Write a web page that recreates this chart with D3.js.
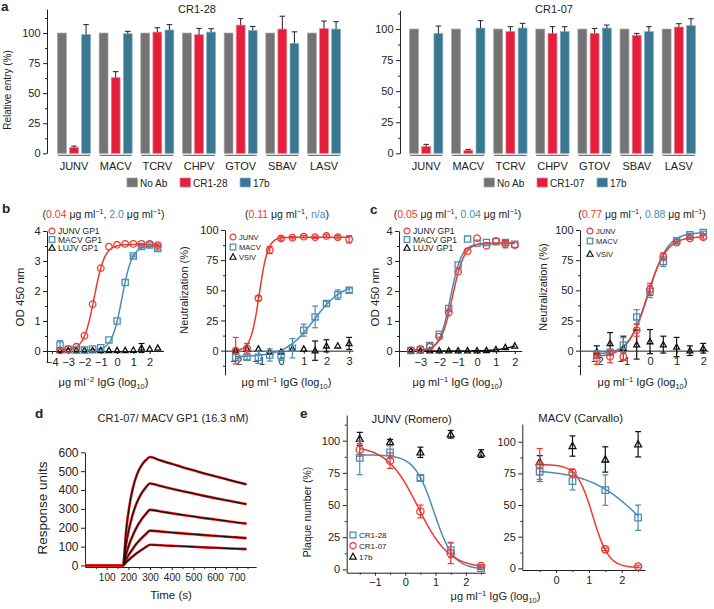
<!DOCTYPE html>
<html><head><meta charset="utf-8">
<script src="https://cdn.jsdelivr.net/npm/d3@7"></script>
<style>
body{margin:0;background:#fff}
svg text{font-family:"Liberation Sans",Arial,sans-serif;fill:#222}
</style></head><body>
<svg id="c" width="714" height="609"></svg>
<script>
// ---------------- DATA ----------------
const viruses = ["JUNV","MACV","TCRV","CHPV","GTOV","SBAV","LASV"];
const barKeys = ["No Ab","mAb","17b"];
// panel a, CR1-28
const a28NoAb = [100,100,100,100,100,100,100];
const a28Ab = [4.7,62.9,100.8,98.6,106.6,103.3,103.6];
const a28AbErr = [1.3,5,3.6,5.3,5.4,10.7,6.4];
const a28B17 = [98.9,99.4,102.5,100.8,102.2,91.4,103.3];
const a28B17Err = [8.1,2,4.5,2.8,3.3,9.6,6.1];
// panel a, CR1-07
const a07NoAb = [100,100,100,100,100,100,100];
const a07Ab = [5.4,2.4,97.9,96.5,96.5,94.9,101.6];
const a07AbErr = [1.8,0.8,4,5.4,4,1.6,2.7];
const a07B17 = [96.5,100.8,100.8,97.9,100.8,97.9,102.7];
const a07B17Err = [5.9,5.9,3.8,4,2.4,4,5.6];
const barTicks = [0,25,50,75,100];

// panel b, ELISA (CR1-28)
const bElisaX = [-3.5,-3,-2.5,-2,-1.5,-1,-0.5,0,0.5,1,1.5,2,2.5];
const bElisaJunv = [0.02,0.06,0.14,0.51,1.56,2.76,3.48,3.54,3.57,3.57,3.57,3.57,3.53];
const bElisaJunvErr = [0,0,0,0,0,0,0,0,0,0,0,0,0.04];
const bElisaMacv = [0.2,0.06,0.03,0.03,0.07,0.11,0.37,1.0,2.28,3.17,3.48,3.53,3.42];
const bElisaMacvErr = [0.15,0,0,0,0,0,0,0,0,0.03,0.04,0.03,0.05];
const bElisaLujv = [0.02,0.02,0.02,0.02,0.02,0.02,0.02,0.02,0.02,0.03,0.1,0.07,0.1];
const bElisaLujvErr = [0,0,0,0,0,0,0,0,0,0,0.15,0,0];
const bElisaFitJunv = [0.03,3.55,-1.4,1.35];   // bottom, top, logEC50, hill
const bElisaFitMacv = [0.03,3.5,0.3,1.4];
// panel b, neutralization (CR1-28)
const bNeutX = [-2,-1.5,-1,-0.5,0,0.5,1,1.5,2,2.5,3];
const bNeutJunv = [0,2,43.4,83.4,93,93.6,94.5,94,95,94,92.3];
const bNeutJunvErr = [11,4,2,3,1.5,1,1,1,1,1.5,3];
const bNeutMacv = [-5.5,-5.5,-5.5,-3.6,-4,2,17,28,39,46.4,50];
const bNeutMacvErr = [3,2,5,5,4,8,5,9,2,4,2];
const bNeutVsiv = [0,1.4,1.4,-1,-1,1.4,1.4,0,4,4,6];
const bNeutVsivErr = [0,0,0,0,0,0,0,8,5,0,5];
const bNeutFitJunv = [0,94,-0.96,2.3];
const bNeutFitMacv = [-5,56,1.45,0.7];

// panel c, ELISA (CR1-07)
const cElisaX = [-3.5,-3,-2.5,-2,-1.5,-1,-0.5,0,0.5,1,1.5,2];
const cElisaJunv = [0.02,0.07,0.14,0.48,1.28,2.64,3.33,3.76,3.51,3.67,3.56,3.53];
const cElisaJunvErr = [0,0,0,0,0,0,0,0,0,0,0.12,0];
const cElisaMacv = [0.02,0.03,0.18,0.56,1.42,2.87,3.73,3.59,3.62,3.64,3.62,3.56];
const cElisaMacvErr = [0,0,0,0,0,0,0,0,0,0,0.05,0];
const cElisaLujv = [0.01,0.01,0.01,0.01,0.01,0.01,0.01,0.01,0.02,0.05,0.12,0.17];
const cElisaFitJunv = [0.02,3.6,-1.3,1.4];
const cElisaFitMacv = [0.02,3.58,-1.4,1.5];
const cElisaFitLujv = [0,0.4,2.2,0.8];
// panel c, neutralization (CR1-07)
const cNeutX = [-2,-1.5,-1,-0.5,0,0.5,1,1.5,2];
const cNeutJunv = [-6.4,-5,-5,17,50.8,78,89.5,93,94];
const cNeutJunvErr = [5,5,3,5,5,3,1,1,1.5];
const cNeutMacv = [-3,-1.4,4.7,28,49,73.8,91,96,98];
const cNeutMacvErr = [3,2,6,6,5,4,1,1,1];
const cNeutVsiv = [-1,6,2,5,7.5,5,3,0,2];
const cNeutVsivErr = [5,9,10,12,10,7,8,4,4];
const cNeutFitJunv = [-5,94.5,-0.11,1.2];
const cNeutFitMacv = [-3,98,-0.055,1.2];

// panel d, SPR sensorgrams
const dTimes = [0,175,190,205,220,240,260,280,300,350,400,450,500,550,600,650,700,745];
const dResp1 = [0,0,188,317,406,483,529,558,575,556,539,521,505,488,473,458,443,430];
const dResp2 = [0,0,115,203,270,335,381,413,435,421,407,394,382,369,357,346,335,325];
const dResp3 = [0,0,62,115,158,206,243,272,295,286,277,268,260,251,244,236,228,222];
const dResp4 = [0,0,33,62,88,119,144,166,185,180,175,170,166,161,157,153,149,145];
const dResp5 = [0,0,17,33,48,66,82,97,110,107,104,102,99,96,94,91,89,87];

// panel e, plaque reduction
const eJunvX = [-1.5,-0.5,0.5,1.5,2.5];
const eJunvCR28 = [86.6,91,71,15,1];
const eJunvCR28Err = [13,5,2,6,1];
const eJunvCR07 = [93,84.5,45,12.5,2.6];
const eJunvCR07Err = [5,6,5,8,1];
const eJunv17b = [101.5,99,91,105,90];
const eJunv17bErr = [5,2,4,3,3];
const eJunvFitCR28 = [0,89,0.95,-1.35];
const eJunvFitCR07 = [1,96,0.42,-0.85];
const eMacvX = [-0.5,0.5,1.5,2.5];
const eMacvCR28 = [76.3,68.9,61.8,40];
const eMacvCR28Err = [6,7,12,10];
const eMacvCR07 = [81.6,75.5,15,1.5];
const eMacvCR07Err = [13,3,1,1];
const eMacv17b = [84,96.6,86,98];
const eMacv17bErr = [5,8,10,10];
const eMacvFitCR28 = [0,78,2.6,-0.55];
const eMacvFitCR07 = [0.5,82,1.12,-1.8];

// ---------------- STYLE ----------------
const FONT = "Liberation Sans, Arial, sans-serif";
const INK = "#222";
const BAR_FILL = ["#747474","#e41f3b","#3a7891"];
const BAR_STROKE = ["#a3a3a3","#f2798a","#86b0c2"];
const RED = "#ea3a33", BLUE = "#4a8db2", BLK = "#111";
const intFmt = d3.format("d");

const svg = d3.select("#c");

function txt(x, y, s, size, opts = {}) {
  const t = svg.append("text").attr("x", x).attr("y", y).attr("font-size", size)
    .attr("text-anchor", opts.anchor || "start").text(s);
  if (opts.bold) t.attr("font-weight", "bold");
  if (opts.fill) t.style("fill", opts.fill);
  return t;
}
// rich text: segments [text, kind, color] kind: n | sup | sub
function rich(x, y, segs, size, anchor = "middle", rotate = false) {
  const t = svg.append("text").attr("font-size", size).attr("text-anchor", anchor);
  if (rotate) t.attr("transform", `translate(${x},${y}) rotate(-90)`);
  else t.attr("x", x).attr("y", y);
  let shift = 0;
  segs.forEach(([s, kind, col]) => {
    const sp = t.append("tspan").text(s);
    let target = 0, fs = size;
    if (kind === "sup") { target = -size * 0.38; fs = size * 0.68; }
    if (kind === "sub") { target = size * 0.25; fs = size * 0.68; }
    sp.attr("font-size", fs).attr("dy", target - shift);
    shift = target;
    if (col) sp.style("fill", col);
  });
  return t;
}
function styleAxis(a, fs) {
  a.attr("font-family", FONT).attr("font-size", fs);
  a.selectAll("line,path").attr("stroke", INK).attr("stroke-width", 1);
  a.selectAll("text").style("fill", INK);
  return a;
}
function leftAxis(x, y, major, minor, fs) {
  const a = svg.append("g").attr("transform", `translate(${x},0)`)
    .call(d3.axisLeft(y).tickValues(major).tickFormat(intFmt).tickSize(4).tickSizeOuter(0).tickPadding(2.5));
  styleAxis(a, fs);
  if (minor) {
    const m = svg.append("g").attr("transform", `translate(${x},0)`)
      .call(d3.axisLeft(y).tickValues(minor).tickSize(2).tickFormat(""));
    m.select(".domain").remove();
    m.selectAll("line").attr("stroke", INK);
  }
  return a;
}
function bottomAxis(yPix, x, major, minor, fs, pad = 4) {
  const ax = d3.axisBottom(x).tickValues(major).tickFormat(intFmt).tickSize(3).tickSizeOuter(0).tickPadding(pad);
  const a = svg.append("g").attr("transform", `translate(0,${yPix})`).call(ax);
  styleAxis(a, fs);
  if (minor) {
    const m = svg.append("g").attr("transform", `translate(0,${yPix})`)
      .call(d3.axisBottom(x).tickValues(minor).tickSize(2).tickFormat(""));
    m.select(".domain").remove();
    m.selectAll("line").attr("stroke", INK);
  }
  return a;
}

// ---------------- PANEL A ----------------
function barPanel(cfg) {
  const x = d3.scaleBand().domain(viruses).range(cfg.xRange).paddingInner(0.232).paddingOuter(0);
  const sub = d3.scaleBand().domain(barKeys).range([-0.5, x.bandwidth() + 0.5]).paddingInner(0.27);
  const y = d3.scaleLinear().domain(cfg.yDomain).range(cfg.yRange);
  const series = [cfg.noAb, cfg.ab, cfg.b17];
  const errs = [null, cfg.abErr, cfg.b17Err];
  const g = svg.append("g");
  barKeys.forEach((k, si) => {
    const rows = viruses.map((v, i) => ({ v, val: series[si][i], e: errs[si] ? errs[si][i] : 0 }));
    g.append("g").selectAll("rect").data(rows).join("rect")
      .attr("x", d => x(d.v) + sub(k)).attr("width", sub.bandwidth())
      .attr("y", d => y(d.val)).attr("height", d => y(0) - y(d.val))
      .attr("fill", BAR_FILL[si]).attr("stroke", BAR_STROKE[si]).attr("stroke-width", 0.7);
    const eg = g.append("g").attr("stroke", INK).attr("stroke-width", 1);
    rows.filter(d => d.e > 0).forEach(d => {
      const cx = x(d.v) + sub(k) + sub.bandwidth() / 2;
      eg.append("line").attr("x1", cx).attr("x2", cx).attr("y1", y(d.val)).attr("y2", y(d.val + d.e));
      eg.append("line").attr("x1", cx - 2.8).attr("x2", cx + 2.8).attr("y1", y(d.val + d.e)).attr("y2", y(d.val + d.e));
    });
  });
  // group underline
  g.append("g").selectAll("line").data(viruses).join("line")
    .attr("x1", d => x(d)).attr("x2", d => x(d) + x.bandwidth())
    .attr("y1", y(0) + 2).attr("y2", y(0) + 2).attr("stroke", "#555").attr("stroke-width", 1);
  g.append("g").selectAll("text").data(viruses).join("text")
    .attr("x", d => x(d) + x.bandwidth() / 2).attr("y", y(0) + 17)
    .attr("text-anchor", "middle").attr("font-size", 11).text(d => d);
  leftAxis(cfg.axisX, y, barTicks, [12.5, 37.5, 62.5, 87.5, 112.5].filter(v => v <= cfg.yDomain[1]), 11);
  txt(cfg.titleX, 13, cfg.title, 11, { anchor: "middle" });
  // legend
  const names = ["No Ab", cfg.title, "17b"];
  cfg.legX.forEach((lx, i) => {
    svg.append("rect").attr("x", lx).attr("y", 178).attr("width", 10.5).attr("height", 9)
      .attr("fill", BAR_FILL[i]).attr("stroke", BAR_STROKE[i]).attr("stroke-width", 0.7);
    txt(lx + 13, 186.5, names[i], 10);
  });
}
barPanel({ xRange: [58, 340], yDomain: [0, 120], yRange: [153.3, 9], axisX: 47,
  noAb: a28NoAb, ab: a28Ab, abErr: a28AbErr, b17: a28B17, b17Err: a28B17Err,
  title: "CR1-28", titleX: 197, legX: [127, 180, 240] });
barPanel({ xRange: [410, 695], yDomain: [0, 115], yRange: [153.3, 10.4], axisX: 400,
  noAb: a07NoAb, ab: a07Ab, abErr: a07AbErr, b17: a07B17, b17Err: a07B17Err,
  title: "CR1-07", titleX: 554, legX: [484, 537, 597] });
svg.append("text").attr("transform", "translate(11,90) rotate(-90)").attr("text-anchor", "middle")
  .attr("font-size", 10).text("Relative entry (%)");
txt(1, 11, "a", 13.5, { bold: true });

// ---------------- helpers for curve panels ----------------
function logistic(p, v) { return p[0] + (p[1] - p[0]) / (1 + Math.pow(10, (p[2] - v) * p[3])); }
function drawFit(x, y, p, x0, x1, color, w = 1.5) {
  const pts = d3.range(x0, x1 + 1e-9, 0.02).map(v => [v, logistic(p, v)]);
  svg.append("path").datum(pts).attr("fill", "none").attr("stroke", color).attr("stroke-width", w)
    .attr("d", d3.line().x(d => x(d[0])).y(d => y(d[1])));
}
function markerPath(shape, s) {
  if (shape === "circle") return d3.symbol(d3.symbolCircle, Math.PI * (3.3 * s) ** 2)();
  if (shape === "square") return d3.symbol(d3.symbolSquare, (6.2 * s) ** 2)();
  const h = 3.6 * s;
  return `M0,${-h}L${h * 0.95},${h * 0.7}L${-h * 0.95},${h * 0.7}Z`;
}
function drawSeries(x, y, xs, ys, errs, shape, color, s = 1, capW = 3) {
  const rows = xs.map((v, i) => ({ v, val: ys[i], e: errs ? errs[i] : 0 }));
  const eg = svg.append("g").attr("stroke", color).attr("stroke-width", 1.2);
  rows.filter(d => d.e > 0).forEach(d => {
    const cx = x(d.v);
    eg.append("line").attr("x1", cx).attr("x2", cx).attr("y1", y(d.val - d.e)).attr("y2", y(d.val + d.e));
    [d.val - d.e, d.val + d.e].forEach(t => eg.append("line").attr("x1", cx - capW).attr("x2", cx + capW)
      .attr("y1", y(t)).attr("y2", y(t)));
  });
  svg.append("g").selectAll("path").data(rows).join("path")
    .attr("transform", d => `translate(${x(d.v)},${y(d.val)})`)
    .attr("d", markerPath(shape, s)).attr("fill", "none").attr("stroke", color).attr("stroke-width", 1.3);
}
function legend(x0, ys, items, fs, s = 0.9) {
  items.forEach(([shape, color, label], i) => {
    svg.append("path").attr("transform", `translate(${x0},${ys[i]})`).attr("d", markerPath(shape, s))
      .attr("fill", "none").attr("stroke", color).attr("stroke-width", 1.2);
    txt(x0 + 6, ys[i] + fs * 0.36, label, fs);
  });
}
const ugml = (sup) => [["μg ml", "n"], [sup, "sup"], [" IgG (log", "n"], ["10", "sub"], [")", "n"]];

// ---------------- PANEL B ----------------
{
  const x = d3.scaleLinear().domain([-4.3, 2.85]).range([47, 163.5]);
  const y = d3.scaleLinear().domain([-0.37, 4]).range([362.1, 231]);
  leftAxis(47, y, [0, 1, 2, 3, 4], [0.5, 1.5, 2.5, 3.5], 11);
  bottomAxis(y(0), x, [-4, -3, -2, -1, 0, 1, 2], null, 11, 4);
  drawFit(x, y, bElisaFitJunv, -3.5, 2.5, RED);
  drawFit(x, y, bElisaFitMacv, -2, 2.5, BLUE);
  drawSeries(x, y, bElisaX, bElisaLujv, bElisaLujvErr, "tri", BLK, 0.85);
  drawSeries(x, y, bElisaX, bElisaMacv, bElisaMacvErr, "square", BLUE);
  drawSeries(x, y, bElisaX, bElisaJunv, bElisaJunvErr, "circle", RED);
  legend(52, [231, 239.5, 248], [["circle", RED, "JUNV GP1"], ["square", BLUE, "MACV GP1"], ["tri", BLK, "LUJV GP1"]], 8.5);
  rich(103.5, 218, [["(", "n"], ["0.04", "n", RED], [" μg ml", "n"], ["−1", "sup"], [", ", "n"], ["2.0", "n", BLUE], [" μg ml", "n"], ["−1", "sup"], [")", "n"]], 10.5);
  rich(103.5, 386, ugml("−2"), 11);
  rich(24, 297, [["OD 450 nm", "n"]], 11.5, "middle", true);
}
{
  const x = d3.scaleLinear().domain([-2.47, 3.17]).range([225, 353]);
  const y = d3.scaleLinear().domain([-20, 100]).range([374.8, 230]);
  leftAxis(225, y, [0, 25, 50, 75, 100], [-12.5, 12.5, 37.5, 62.5, 87.5], 11);
  bottomAxis(y(0), x, [-2, -1, 0, 1, 2, 3], null, 11, 4);
  drawFit(x, y, bNeutFitJunv, -2, 3, RED);
  drawFit(x, y, bNeutFitMacv, -2, 3, BLUE);
  drawSeries(x, y, bNeutX, bNeutVsiv, bNeutVsivErr, "tri", BLK, 0.85);
  drawSeries(x, y, bNeutX, bNeutMacv, bNeutMacvErr, "square", BLUE);
  drawSeries(x, y, bNeutX, bNeutJunv, bNeutJunvErr, "circle", RED);
  legend(233, [237, 247, 257], [["circle", RED, "JUNV"], ["square", BLUE, "MACV"], ["tri", BLK, "VSIV"]], 7.5);
  rich(287, 218, [["(", "n"], ["0.11", "n", RED], [" μg ml", "n"], ["−1", "sup"], [", ", "n"], ["n/a", "n", BLUE], [")", "n"]], 10.5);
  rich(286.5, 386, ugml("−1"), 11);
  rich(188, 290, [["Neutralization (%)", "n"]], 11, "middle", true);
}
txt(2, 213, "b", 13.5, { bold: true });

// ---------------- PANEL C ----------------
{
  const x = d3.scaleLinear().domain([-4.13, 2.37]).range([399, 521.8]);
  const y = d3.scaleLinear().domain([-0.52, 4]).range([366.6, 231]);
  leftAxis(399, y, [0, 1, 2, 3, 4], [0.5, 1.5, 2.5, 3.5], 11);
  bottomAxis(y(0), x, [-3, -2, -1, 0, 1, 2], null, 11, 4);
  drawFit(x, y, cElisaFitLujv, -3.5, 2, BLK);
  drawFit(x, y, cElisaFitMacv, -3.5, 2, BLUE);
  drawFit(x, y, cElisaFitJunv, -3.5, 2, RED);
  drawSeries(x, y, cElisaX, cElisaLujv, null, "tri", BLK, 0.85);
  drawSeries(x, y, cElisaX, cElisaMacv, cElisaMacvErr, "square", BLUE);
  drawSeries(x, y, cElisaX, cElisaJunv, cElisaJunvErr, "circle", RED);
  legend(407, [231, 239.5, 248], [["circle", RED, "JUNV GP1"], ["square", BLUE, "MACV GP1"], ["tri", BLK, "LUJV GP1"]], 8.5);
  rich(457.5, 218, [["(", "n"], ["0.05", "n", RED], [" μg ml", "n"], ["−1", "sup"], [", ", "n"], ["0.04", "n", BLUE], [" μg ml", "n"], ["−1", "sup"], [")", "n"]], 10.5);
  rich(457.5, 386, ugml("−1"), 11);
  rich(379, 297, [["OD 450 nm", "n"]], 11.5, "middle", true);
}
{
  const x = d3.scaleLinear().domain([-2.63, 2.18]).range([580, 708]);
  const y = d3.scaleLinear().domain([-20, 100]).range([374.8, 230]);
  leftAxis(580, y, [0, 25, 50, 75, 100], [-12.5, 12.5, 37.5, 62.5, 87.5], 11);
  bottomAxis(y(0), x, [-2, -1, 0, 1, 2], null, 11, 4);
  drawFit(x, y, cNeutFitMacv, -2, 2, BLUE);
  drawFit(x, y, cNeutFitJunv, -2, 2, RED);
  drawSeries(x, y, cNeutX, cNeutVsiv, cNeutVsivErr, "tri", BLK, 0.85);
  drawSeries(x, y, cNeutX, cNeutMacv, cNeutMacvErr, "square", BLUE);
  drawSeries(x, y, cNeutX, cNeutJunv, cNeutJunvErr, "circle", RED);
  legend(590, [231, 241, 254], [["circle", RED, "JUNV"], ["square", BLUE, "MACV"], ["tri", BLK, "VSIV"]], 7.5);
  rich(642, 218, [["(", "n"], ["0.77", "n", RED], [" μg ml", "n"], ["−1", "sup"], [", ", "n"], ["0.88", "n", BLUE], [" μg ml", "n"], ["−1", "sup"], [")", "n"]], 10.5);
  rich(642.5, 386, ugml("−1"), 11);
  rich(547, 287, [["Neutralization (%)", "n"]], 11, "middle", true);
}
txt(370, 214, "c", 13.5, { bold: true });

// ---------------- PANEL D ----------------
{
  const x = d3.scaleLinear().domain([0, 790]).range([85, 256.2]);
  const y = d3.scaleLinear().domain([-8, 600]).range([567, 452.3]);
  leftAxis(85, y, [0, 100, 200, 300, 400, 500, 600], null, 12);
  bottomAxis(567, x, [100, 200, 300, 400, 500, 600, 700], [50, 150, 250, 350, 450, 550, 650, 750], 10, 4);
  const line = d3.line().x((d, i) => x(dTimes[i])).y(d => y(d)).curve(d3.curveMonotoneX);
  const curves = [dResp1, dResp2, dResp3, dResp4, dResp5];
  curves.forEach(c => svg.append("path").datum(c).attr("fill", "none").attr("stroke", "#ee1c1c")
    .attr("stroke-width", 2.6).attr("d", line));
  curves.forEach(c => svg.append("path").datum(c).attr("fill", "none").attr("stroke", "#111")
    .attr("stroke-width", 1.2).attr("d", line));
  txt(173, 422, "CR1-07/ MACV GP1 (16.3 nM)", 11, { anchor: "middle" });
  txt(171, 599, "Time (s)", 11.5, { anchor: "middle" });
  rich(47, 508, [["Response units", "n"]], 13.5, "middle", true);
}
txt(35, 418, "d", 13.5, { bold: true });

// ---------------- PANEL E ----------------
{
  const x = d3.scaleLinear().domain([-1.93, 2.63]).range([346.7, 485]);
  const y = d3.scaleLinear().domain([-2.6, 120]).range([572.7, 415]);
  leftAxis(346.7, y, [0, 25, 50, 75, 100], [12.5, 37.5, 62.5, 87.5, 112.5], 11);
  bottomAxis(572.7, x, [-1, 0, 1, 2], [-1.5, -0.5, 0.5, 1.5, 2.5], 11, 3);
  drawFit(x, y, eJunvFitCR28, -1.5, 2.5, BLUE);
  drawFit(x, y, eJunvFitCR07, -1.5, 2.5, RED);
  drawSeries(x, y, eJunvX, eJunv17b, eJunv17bErr, "tri", BLK, 1);
  drawSeries(x, y, eJunvX, eJunvCR28, eJunvCR28Err, "square", BLUE, 1.05);
  drawSeries(x, y, eJunvX, eJunvCR07, eJunvCR07Err, "circle", RED, 1.1);
  legend(353, [535, 545.7, 556.7], [["square", BLUE, "CR1-28"], ["circle", RED, "CR1-07"], ["tri", BLK, "17b"]], 8, 0.95);
  txt(411.7, 423, "JUNV (Romero)", 11.3, { anchor: "middle" });
  rich(311, 512, [["Plaque number (%)", "n"]], 10.5, "middle", true);
}
{
  const x = d3.scaleLinear().domain([-1.03, 2.71]).range([522.3, 645]);
  const y = d3.scaleLinear().domain([-1.3, 114]).range([570, 424]);
  leftAxis(522.3, y, [0, 25, 50, 75, 100], [12.5, 37.5, 62.5, 87.5], 11);
  bottomAxis(570, x, [0, 1, 2], [-0.5, 0.5, 1.5, 2.5], 11, 3);
  drawFit(x, y, eMacvFitCR28, -0.5, 2.5, BLUE);
  drawFit(x, y, eMacvFitCR07, -0.5, 2.5, RED);
  drawSeries(x, y, eMacvX, eMacv17b, eMacv17bErr, "tri", BLK, 1);
  drawSeries(x, y, eMacvX, eMacvCR28, eMacvCR28Err, "square", BLUE, 1.05);
  drawSeries(x, y, eMacvX, eMacvCR07, eMacvCR07Err, "circle", RED, 1.1);
  txt(580.7, 422, "MACV (Carvallo)", 11.3, { anchor: "middle" });
}
rich(495.5, 600, ugml("−1"), 11);
txt(300, 418, "e", 13.5, { bold: true });
</script></body></html>
